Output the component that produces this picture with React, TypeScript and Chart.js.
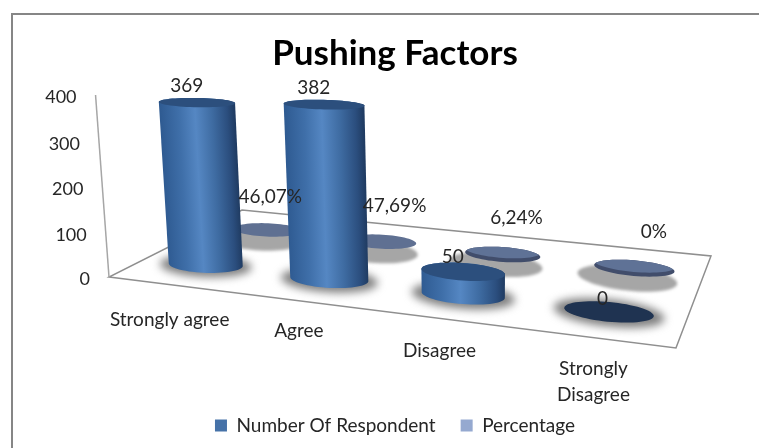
import React, { useEffect, useRef } from "react";
import { Chart, registerables } from "chart.js";

Chart.register(...registerables);

const chartTitle = "Pushing Factors";
const categories: (string | string[])[] = ["Strongly agree", "Agree", "Disagree", ["Strongly", "Disagree"]];
const respondents = [369, 382, 50, 0];
const percentages = [0.4607, 0.4769, 0.0624, 0];
const seriesNames = ["Number Of Respondent", "Percentage"];
const FONT = "Lato";

// Camera: maps (u along categories, v depth, h height) to the screen
const project = (u: number, v: number, h: number) => {
  const D = -0.1612 * u + 0.221 * v + 1 - 0.035 * h;
  return {
    x: (458 * u + 186.5 * v + 109 - 16.8 * h) / D,
    y: (14.9 * u - 20.6 * v + 277 - 185.3 * h) / D,
  };
};
const DEPTH = [0.25, 0.75];
const RU = 0.073;
const RV = 0.095;
// Label nudges relative to the projected mark
const FRONT_DX = [-10, -10, -10, -6];
const FRONT_DY = [-17, -17, -15, -13];
const BACK_DX = [3, 14, 14, 20];
const BACK_DY = [-33, -36, -36, -36];
const CAT_DY = [35, 30, 32, 31];

type P = { x: number; y: number };
const ring = (u: number, v: number, h: number): P[] => {
  const pts: P[] = [];
  for (let i = 0; i < 64; i++) {
    const a = (i / 64) * Math.PI * 2;
    pts.push(project(u + RU * Math.cos(a), v + RV * Math.sin(a), h));
  }
  return pts;
};
const trace = (c: CanvasRenderingContext2D, pts: P[]) => {
  c.beginPath();
  pts.forEach((p, i) => (i ? c.lineTo(p.x, p.y) : c.moveTo(p.x, p.y)));
  c.closePath();
};
const hull = (input: P[]): P[] => {
  const s = [...input].sort((a, b) => a.x - b.x || a.y - b.y);
  const cross = (o: P, a: P, b: P) => (a.x - o.x) * (b.y - o.y) - (a.y - o.y) * (b.x - o.x);
  const half = (list: P[]) => {
    const r: P[] = [];
    for (const p of list) {
      while (r.length >= 2 && cross(r[r.length - 2], r[r.length - 1], p) <= 0) r.pop();
      r.push(p);
    }
    r.pop();
    return r;
  };
  return [...half(s), ...half([...s].reverse())];
};
const scaled = (pts: P[], kx: number, ky: number, dx: number, dy: number): P[] => {
  const cx = pts.reduce((a, p) => a + p.x, 0) / pts.length;
  const cy = pts.reduce((a, p) => a + p.y, 0) / pts.length;
  return pts.map((p) => ({ x: cx + (p.x - cx) * kx + dx, y: cy + (p.y - cy) * ky + dy }));
};

const scene = {
  id: "scene3d",
  beforeDatasetsDraw(chart: any) {
    const c: CanvasRenderingContext2D = chart.ctx;
    const xs = chart.scales.x;
    const ys = chart.scales.y;
    const hOf = (py: number) => (ys.bottom - py) / ys.height;
    const uOf = (px: number) => (px - xs.left) / xs.width;
    c.save();

    // floor
    const floor = [project(0, 0, 0), project(1, 0, 0), project(1, 1, 0), project(0, 1, 0)];
    c.strokeStyle = "#8f8f8f";
    c.lineWidth = 1.5;
    trace(c, floor);
    c.stroke();
    // value axis edge
    c.strokeStyle = "#a6a6a6";
    const a0 = project(0, 0, 0);
    const a1 = project(0, 0, 1);
    c.beginPath();
    c.moveTo(a0.x, a0.y);
    c.lineTo(a1.x, a1.y);
    c.stroke();

    // back series: flat discs
    chart.getDatasetMeta(1).data.forEach((el: any) => {
      const u = uOf(el.x);
      const pts = ring(u, DEPTH[1], hOf(el.y));
      c.save();
      c.filter = "blur(1.5px)";
      c.fillStyle = "#a6a6a6";
      trace(c, scaled(pts, 1.24, 1.6, -7, 10));
      c.fill();
      c.restore();
      c.fillStyle = u > 0.5 ? "#414d6b" : "#5f7092";
      trace(c, pts);
      c.fill();
      if (u > 0.5) {
        c.save();
        trace(c, pts);
        c.clip();
        c.fillStyle = "#5f7296";
        trace(c, pts.map((p) => ({ x: p.x, y: p.y - 4 })));
        c.fill();
        c.restore();
      }
    });

    // front series: cylinders
    chart.getDatasetMeta(0).data.forEach((el: any) => {
      const u = uOf(el.x);
      const h = hOf(el.y);
      const base = ring(u, DEPTH[0], 0);
      const top = ring(u, DEPTH[0], h);
      c.save();
      c.filter = "blur(4px)";
      c.fillStyle = "#808080";
      trace(c, scaled(base, 1.24, 1.4, 0, 1));
      c.fill();
      c.restore();
      if (h > 0) {
        const b = project(u, DEPTH[0], 0);
        const t = project(u, DEPTH[0], h);
        const ax = t.x - b.x;
        const ay = t.y - b.y;
        const len = Math.hypot(ax, ay) || 1;
        const r = (Math.max(...base.map((p) => p.x)) - Math.min(...base.map((p) => p.x))) / 2;
        const g = c.createLinearGradient(b.x + (ay / len) * r, b.y - (ax / len) * r, b.x - (ay / len) * r, b.y + (ax / len) * r);
        g.addColorStop(0, "#2f5b92");
        g.addColorStop(0.25, "#3f6fa9");
        g.addColorStop(0.47, "#5587c3");
        g.addColorStop(0.7, "#3e6ba1");
        g.addColorStop(0.9, "#2b4e7e");
        g.addColorStop(1, "#203c63");
        c.fillStyle = g;
        trace(c, hull([...base, ...top]));
        c.fill();
      }
      c.fillStyle = h > 0 ? "#2c4f7d" : "#1f3351";
      trace(c, top);
      c.fill();
    });

    // text
    c.fillStyle = "#262626";
    c.font = `18px ${FONT}`;
    c.textBaseline = "middle";
    c.textAlign = "right";
    ys.ticks.forEach((t: any) => {
      const p = project(0, 0, hOf(ys.getPixelForValue(t.value)));
      c.fillText(String(t.value), p.x - 19, p.y + 2);
    });
    c.font = `19px ${FONT}`;
    c.textAlign = "center";
    (chart.data.labels as (string | string[])[]).forEach((lab, i) => {
      const p = project(uOf(xs.getPixelForValue(i)), 0, 0);
      const lines = Array.isArray(lab) ? lab : [lab];
      lines.forEach((s, k) => c.fillText(s, p.x, p.y + CAT_DY[i] + k * 26));
    });
    chart.getDatasetMeta(0).data.forEach((el: any, i: number) => {
      const p = project(uOf(el.x), DEPTH[0], hOf(el.y));
      c.fillText(String(chart.data.datasets[0].data[i]), p.x + FRONT_DX[i], p.y + FRONT_DY[i]);
    });
    chart.getDatasetMeta(1).data.forEach((el: any, i: number) => {
      const p = project(uOf(el.x), DEPTH[1], hOf(el.y));
      const v = chart.data.datasets[1].data[i];
      const text = v === 0 ? "0%" : (v * 100).toFixed(2).replace(".", ",") + "%";
      c.fillText(text, p.x + BACK_DX[i], p.y + BACK_DY[i]);
    });
    c.restore();
    return false;
  },
};

export default function App() {
  const ref = useRef<HTMLCanvasElement>(null);
  useEffect(() => {
    const chart = new Chart(ref.current as HTMLCanvasElement, {
      type: "bar",
      data: {
        labels: categories as any,
        datasets: [
          { label: seriesNames[0], data: respondents, backgroundColor: "#4672a8" },
          { label: seriesNames[1], data: percentages, backgroundColor: "#95a9d0" },
        ],
      },
      options: {
        animation: false,
        responsive: false,
        layout: { padding: { left: 31, right: 0, top: 22, bottom: 3 } },
        datasets: { bar: { grouped: false } },
        scales: {
          x: { display: false },
          y: { display: false, min: 0, max: 400, ticks: { stepSize: 100 } },
        },
        plugins: {
          title: {
            display: true,
            text: chartTitle,
            color: "#000000",
            font: { family: FONT, size: 35, weight: "bold" },
            padding: { top: 11, bottom: 8 },
          },
          legend: {
            position: "bottom",
            labels: {
              color: "#262626",
              font: { family: FONT, size: 19 },
              boxWidth: 12,
              boxHeight: 12,
              padding: 25,
            },
          },
          tooltip: { enabled: false },
        },
      } as any,
      plugins: [scene],
    });
    return () => chart.destroy();
  }, []);
  return (
    <div style={{ position: "fixed", left: 0, top: 0, width: 759, height: 448, background: "#ffffff", overflow: "hidden" }}>
      <div style={{ position: "absolute", left: 11, top: 13, width: 800, height: 500, border: "2px solid #868686" }} />
      <canvas ref={ref} width={759} height={448} style={{ position: "absolute", left: 0, top: 0, display: "block" }} />
    </div>
  );
}
